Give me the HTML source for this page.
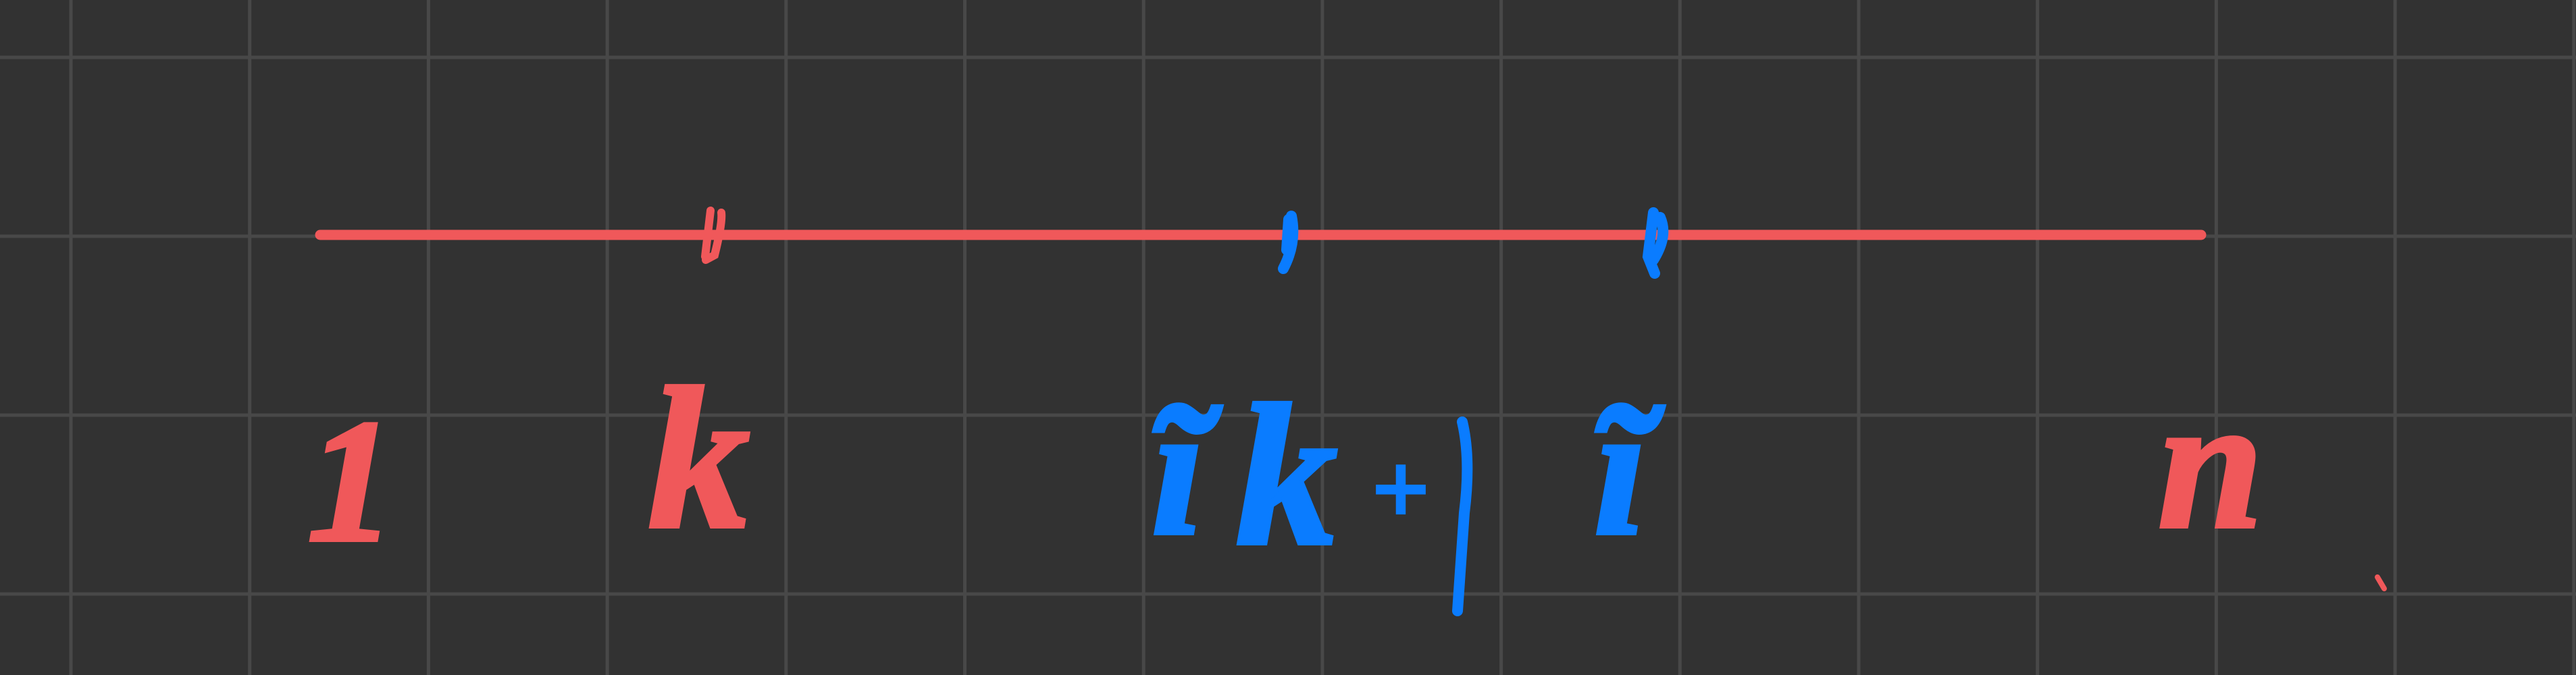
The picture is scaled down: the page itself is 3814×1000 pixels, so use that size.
<!DOCTYPE html>
<html>
<head>
<meta charset="utf-8">
<style>
  html,body{margin:0;padding:0;background:#323232;}
  svg{display:block;}
  .lbl{font-family:"Liberation Serif",serif;font-style:italic;font-weight:bold;}
</style>
</head>
<body>
<svg width="3814" height="1000" viewBox="0 0 3814 1000" xmlns="http://www.w3.org/2000/svg">
  <rect width="3814" height="1000" fill="#323232"/>
  <g id="grid" stroke="#484848" stroke-width="5"></g>

  <line x1="474" y1="348" x2="3259" y2="348" stroke="#f0585a" stroke-width="15" stroke-linecap="round"/>

  <path d="M1052 312 L1044 380 M1068 315 Q1070 330 1058 378 L1045 385" stroke="#f0585a" stroke-width="12" fill="none" stroke-linecap="round"/>
  <path d="M1912 320 Q1920 360 1900 398 M1908 325 L1905 370" stroke="#0a7cff" stroke-width="16" fill="none" stroke-linecap="round"/>
  <path d="M2448 315 L2440 380 L2450 405 M2458 322 Q2470 350 2448 385" stroke="#0a7cff" stroke-width="16" fill="none" stroke-linecap="round"/>

  <text class="lbl" x="455" y="800" font-size="260" fill="#f0585a" stroke="#f0585a" stroke-width="6">1</text>
  <text class="lbl" x="960" y="780" font-size="300" fill="#f0585a" stroke="#f0585a" stroke-width="6">k</text>
  <text class="lbl" x="1705" y="790" font-size="280" fill="#0a7cff" stroke="#0a7cff" stroke-width="6">ĩ</text>
  <text class="lbl" x="1830" y="805" font-size="300" fill="#0a7cff" stroke="#0a7cff" stroke-width="6">k</text>
  <text class="lbl" x="2030" y="775" font-size="150" fill="#0a7cff" stroke="#0a7cff" stroke-width="4">+</text>
  <path d="M2165 625 Q2178 680 2168 760 L2158 905" stroke="#0a7cff" stroke-width="16" fill="none" stroke-linecap="round"/>
  <text class="lbl" x="2360" y="790" font-size="280" fill="#0a7cff" stroke="#0a7cff" stroke-width="6">ĩ</text>
  <text class="lbl" x="3195" y="780" font-size="280" fill="#f0585a" stroke="#f0585a" stroke-width="6">n</text>
  <path d="M3520 855 L3530 872" stroke="#f0585a" stroke-width="8" stroke-linecap="round"/>
</svg>
<script>
const gridX0 = 105, gridDX = 264.7;
const gridY = [85, 350, 615, 880];
const g = document.getElementById('grid');
for (let x = gridX0; x < 3814; x += gridDX) {
  const l = document.createElementNS('http://www.w3.org/2000/svg','line');
  l.setAttribute('x1', x); l.setAttribute('x2', x);
  l.setAttribute('y1', 0); l.setAttribute('y2', 1000);
  
  
  g.appendChild(l);
}
for (const y of gridY) {
  const l = document.createElementNS('http://www.w3.org/2000/svg','line');
  l.setAttribute('x1', 0); l.setAttribute('x2', 3814);
  l.setAttribute('y1', y); l.setAttribute('y2', y);
  
  
  g.appendChild(l);
}
</script>
</body>
</html>
